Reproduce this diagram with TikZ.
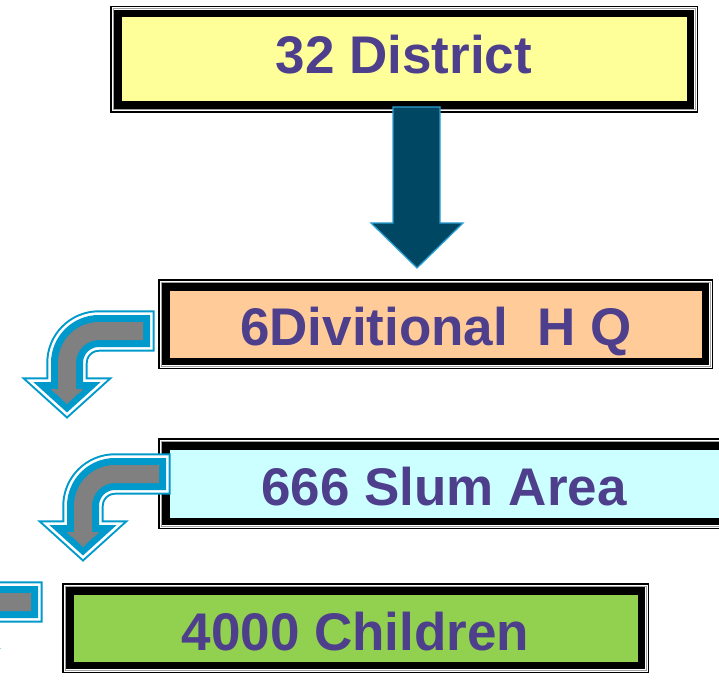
\documentclass[tikz,border=0pt]{standalone}
\usepackage{fontspec}
\setmainfont{Liberation Sans}
\usetikzlibrary{calc}
\definecolor{txtblue}{RGB}{77,63,140}
\definecolor{boxyellow}{RGB}{255,255,153}
\definecolor{boxpeach}{RGB}{255,204,153}
\definecolor{boxcyan}{RGB}{204,255,255}
\definecolor{boxgreen}{RGB}{146,208,80}
\definecolor{framegray}{RGB}{160,160,160}
\definecolor{arrowblue}{RGB}{0,153,204}
\definecolor{arrowgray}{RGB}{128,128,128}
\definecolor{darkteal}{RGB}{0,71,99}
\definecolor{edgeblue}{RGB}{45,160,210}
\newcommand\layerbox[2]{%
  \fill[black] (#1.north west) rectangle (#1.south east);
  \fill[white] ([shift={(1.5,1.5)}]#1.north west) rectangle ([shift={(-1.5,-1.5)}]#1.south east);
  \fill[framegray] ([shift={(2.5,2.5)}]#1.north west) rectangle ([shift={(-2.5,-2.5)}]#1.south east);
  \fill[white] ([shift={(3.5,3.5)}]#1.north west) rectangle ([shift={(-3.5,-3.5)}]#1.south east);
  \fill[black] ([shift={(4.2,4.2)}]#1.north west) rectangle ([shift={(-4.2,-4.2)}]#1.south east);
  \fill[#2] ([shift={(11.5,11.5)}]#1.north west) rectangle ([shift={(-11.5,-11.5)}]#1.south east);
}
\newcommand\bentarrow[1]{%
  \begin{scope}[shift={#1}]
    \foreach \o/\c in {11.7/arrowblue, 9.7/white, 7/arrowblue, 0/arrowgray}{
      \draw[color=\c, line width={(18+2*\o)*1pt}, line cap=butt]
        (143+\o,331) -- (99,331) .. controls (81.3,331) and (67,345.3) .. (67,363) -- (67,393);
      \path[fill=\c, draw=\c, line width={2*\o*1pt}, line join=miter]
        (51.5,389) -- (82.5,389) -- (67,403) -- cycle;
    }
  \end{scope}}
\begin{document}
\begin{tikzpicture}[x=1pt,y=-1pt,
  boxnode/.style={rectangle, inner sep=0pt, outer sep=0pt},
  lbl/.style={inner sep=0pt, anchor=base, text=txtblue, font=\bfseries\fontsize{53}{60}\selectfont}]
\useasboundingbox (0,0) rectangle (719,692);
\clip (0,0) rectangle (719,692);
% boxes
\node[boxnode, minimum width=588pt, minimum height=107pt] (b1) at (404,59.5) {};
\node[boxnode, minimum width=555pt, minimum height=90pt] (b2) at (435.5,324) {};
\node[boxnode, minimum width=572pt, minimum height=91pt] (b3) at (444,483.5) {};
\node[boxnode, minimum width=587pt, minimum height=90pt] (b4) at (355.5,628) {};
\layerbox{b1}{boxyellow}
\layerbox{b2}{boxpeach}
\layerbox{b3}{boxcyan}
\layerbox{b4}{boxgreen}
% texts
\node[lbl] (t1) at (404,74) {32 District};
\node[lbl] (t2) at (436,345) {6Divitional~ H Q};
\node[lbl] (t3) at (444,505) {666 Slum Area};
\node[lbl] (t4) at (355.5,650) {4000 Children};
% straight down arrow from b1 to b2
\coordinate (dtop) at (416.5,107);
\coordinate (dtip) at (417,268);
\filldraw[fill=darkteal, draw=edgeblue, line width=1.3pt, line join=miter]
  ($(dtop)+(-23.5,0)$) -- ($(dtop)+(23.5,0)$) -- ($(dtop)+(23.5,116)$) -- ($(dtip)+(46,-45)$)
  -- (dtip) -- ($(dtip)+(-46,-45)$) -- ($(dtop)+(-23.5,116)$) -- cycle;
% bent arrows
\bentarrow{(0,0)}
\bentarrow{(16,143)}
\bentarrow{(-112,271)}
\end{tikzpicture}
\end{document}
